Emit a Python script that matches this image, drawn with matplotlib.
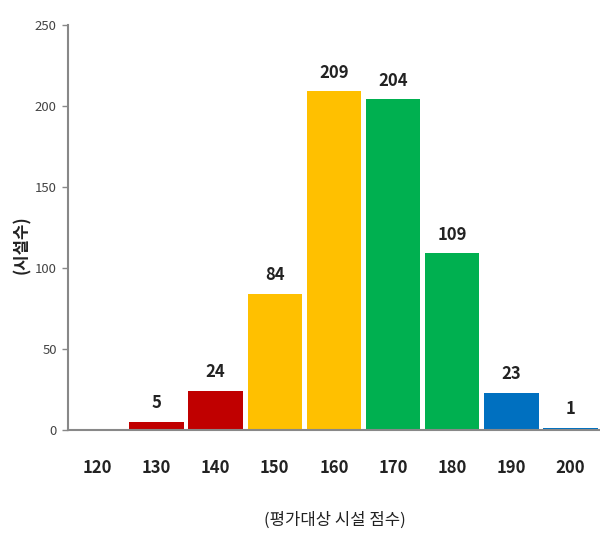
import matplotlib
matplotlib.use("Agg")
import matplotlib.pyplot as plt
import numpy as np

# facility score distribution
scores = ["120", "130", "140", "150", "160", "170", "180", "190", "200"]
counts = [0, 5, 24, 84, 209, 204, 109, 23, 1]
bar_colors = ["#C00000", "#C00000", "#C00000", "#FFC000", "#FFC000",
              "#00B050", "#00B050", "#0070C0", "#0070C0"]
y_ticks = [0, 50, 100, 150, 200, 250]

FONT = ["Liberation Sans Narrow", "Noto Sans CJK KR", "DejaVu Sans"]
plt.rcParams["font.family"] = FONT

fig = plt.figure(figsize=(6.0, 5.4), dpi=100)
ax = fig.add_axes([0.113, 0.204, 0.887, 0.750])

x = np.arange(len(scores))
ax.bar(x, counts, width=0.92, color=bar_colors, zorder=2)

for xi, c in zip(x, counts):
    if c > 0:
        ax.text(xi, c + 6, str(c), ha="center", va="bottom",
                fontsize=12, fontweight="bold", color="#222222")

ax.set_xlim(-0.5, len(scores) - 0.5)
ax.set_ylim(0, 250)
ax.set_yticks(y_ticks)
ax.set_yticklabels([str(t) for t in y_ticks], fontsize=9.5, color="#444444")
ax.set_xticks(x)
ax.set_xticklabels(scores, fontsize=12, fontweight="bold", color="#222222")
ax.tick_params(axis="x", length=0, pad=21)
ax.tick_params(axis="y", length=4, width=1, color="#888888", pad=4)

for side in ("top", "right"):
    ax.spines[side].set_visible(False)
for side in ("left", "bottom"):
    ax.spines[side].set_color("#888888")
    ax.spines[side].set_linewidth(1.5)

fig.text(0.037, 0.546, "(시설수)", rotation=90, ha="center", va="center",
         fontsize=12, fontweight="bold", color="#222222")
fig.text(0.558, 0.037, "(평가대상 시설 점수)", ha="center", va="center",
         fontsize=12, color="#222222")

fig.savefig("out.png", dpi=100)
